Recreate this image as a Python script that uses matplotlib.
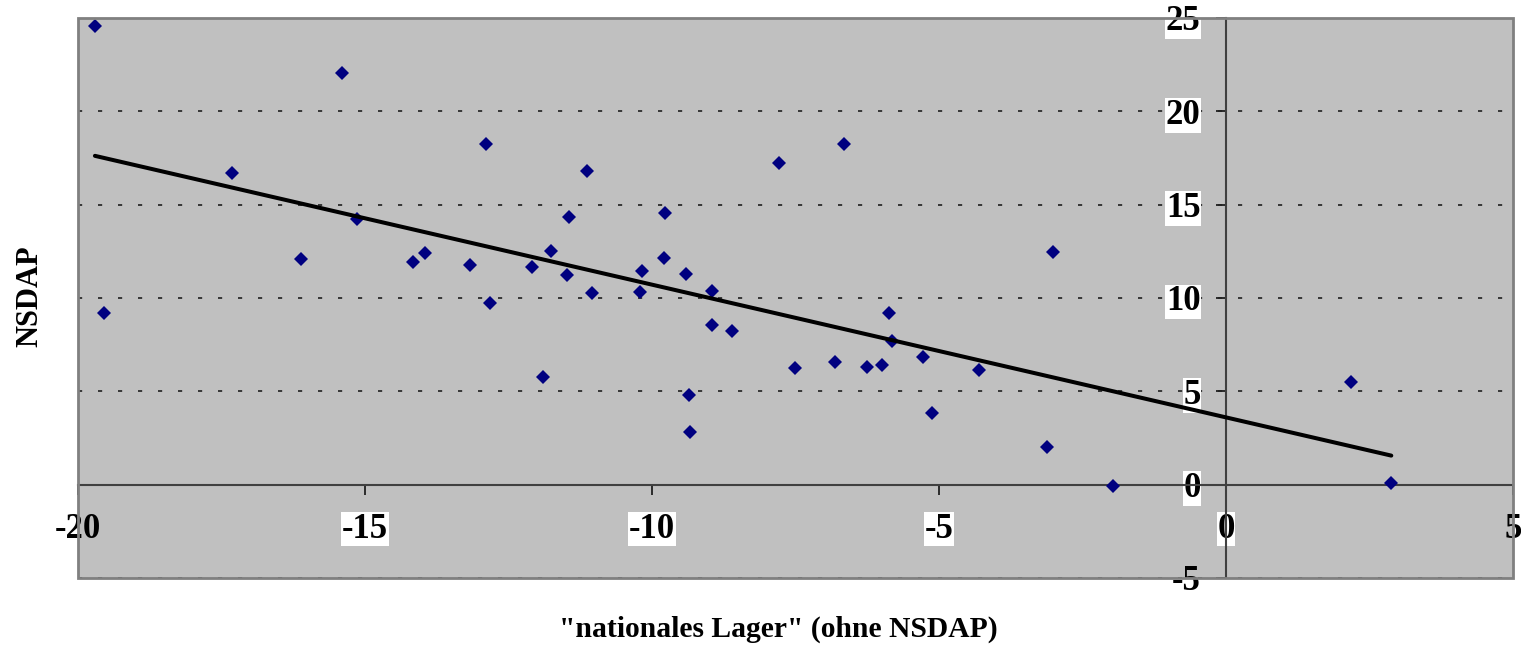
import numpy as np
import matplotlib
matplotlib.use("Agg")
import matplotlib.pyplot as plt
from matplotlib.patches import Rectangle

# Data
nationales_lager = [-19.70, -15.39, -12.88, -17.32, -15.13, -16.11, -14.16, -13.95,
                    -13.17, -12.09, -11.75, -12.82, -19.54, -11.89,
                    -11.13, -7.79, -6.66, -11.45, -9.77, -11.48, -11.04, -10.17,
                    -10.20, -9.79, -9.41, -8.96,
                    -8.95, -8.60, -9.36, -9.34, -7.50, -6.81, -6.26, -5.99, -5.87,
                    -5.82, -5.28, -5.12, -4.30, -3.01, -3.11, -1.96, 2.18, 2.88]
nsdap = [24.55, 22.03, 18.23, 16.67, 14.23, 12.07, 11.93, 12.41,
         11.78, 11.64, 12.50, 9.71, 9.21, 5.77,
         16.80, 17.21, 18.26, 14.35, 14.53, 11.23, 10.25, 11.45,
         10.34, 12.12, 11.29, 10.39,
         8.53, 8.21, 4.82, 2.82, 6.25, 6.57, 6.30, 6.39, 9.18,
         7.68, 6.82, 3.82, 6.14, 12.44, 2.00, -0.07, 5.52, 0.09]

x_ticks = [-20, -15, -10, -5, 0, 5]
y_ticks = [-5, 0, 5, 10, 15, 20, 25]
x_label = '"nationales Lager" (ohne NSDAP)'
y_label = "NSDAP"

plt.rcParams['font.family'] = ['Liberation Serif', 'DejaVu Serif']
plt.rcParams['font.weight'] = 'bold'

fig = plt.figure(figsize=(15.21, 6.53), dpi=100)
ax = fig.add_axes([77.7 / 1521, 1 - 578 / 653, (1513 - 77.7) / 1521, (578 - 18) / 653])
ax.set_facecolor('#C0C0C0')

ax.set_xlim(-20, 5)
ax.set_ylim(-5, 25)

# grid
ax.set_yticks(y_ticks)
ax.set_xticks(x_ticks)
ax.yaxis.grid(True, color='#202020', linewidth=1.2, linestyle=(0, (2.5, 9.5)), zorder=0)
ax.set_axisbelow(True)

# axes crossing at zero
for side in ['top', 'right']:
    ax.spines[side].set_visible(False)
ax.spines['left'].set_position(('data', 0))
ax.spines['bottom'].set_position(('data', 0))
for side in ['left', 'bottom']:
    ax.spines[side].set_color('#404040')
    ax.spines[side].set_linewidth(1.5)
    ax.spines[side].set_zorder(2)

# outer frame
ax.add_patch(Rectangle((0, 0), 1, 1, transform=ax.transAxes, fill=False,
                       edgecolor='#808080', linewidth=2.0, clip_on=False, zorder=5))

ax.tick_params(axis='x', direction='out', length=7.2, width=1.3, color='#202020',
               pad=13, labelsize=25)
ax.tick_params(axis='y', direction='out', length=7.2, width=1.3, color='#202020',
               pad=11, labelsize=25)
ax.set_xticklabels([str(t) for t in x_ticks])
ax.set_yticklabels([str(t) for t in y_ticks])
for lbl, t in zip(ax.get_xticklabels(), x_ticks):
    lbl.set_fontweight('bold')
    if t not in (-20, 5):
        lbl.set_bbox(dict(facecolor='white', edgecolor='none', pad=0.5))
for lbl, t in zip(ax.get_yticklabels(), y_ticks):
    lbl.set_fontweight('bold')
    if t != -5:
        lbl.set_bbox(dict(facecolor='white', edgecolor='none', pad=0.5))

# scatter
ax.plot(nationales_lager, nsdap, linestyle='none', marker='D', markersize=7.4,
        markerfacecolor='#000080', markeredgewidth=0, zorder=3)

# linear trend line
xs = np.array(nationales_lager)
ys = np.array(nsdap)
m, b = np.polyfit(xs, ys, 1)
xl = np.array([xs.min(), xs.max()])
ax.plot(xl, m * xl + b, color='black', linewidth=2.9, solid_capstyle='round', zorder=4)

fig.text(30 / 1521, 1 - 296 / 653, y_label, rotation=90, ha='center', va='center',
         fontsize=22, fontweight='bold')
fig.text(778 / 1521, 1 - 629 / 653, x_label, ha='center', va='center',
         fontsize=21.3, fontweight='bold')

fig.savefig('out.png', dpi=100)
